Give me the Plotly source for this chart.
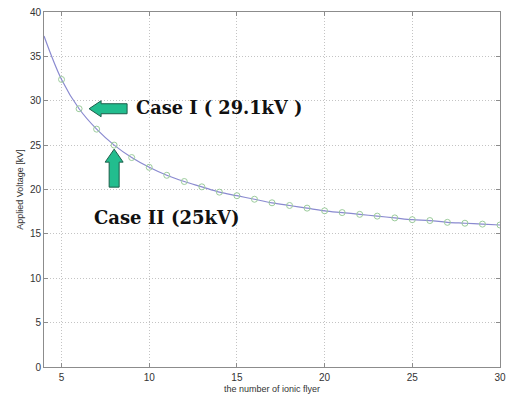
import plotly.graph_objects as go

# number of ionic flyer and applied voltage [kV]
line_x = [4, 5, 6, 7, 8, 9, 10, 11, 12, 13, 14, 15, 16, 17, 18, 19, 20,
          21, 22, 23, 24, 25, 26, 27, 28, 29, 30]
line_v = [37.3, 32.4, 29.1, 26.8, 25.0, 23.6, 22.5, 21.6, 20.9, 20.3, 19.7,
          19.3, 18.9, 18.5, 18.2, 17.9, 17.6, 17.4, 17.2, 17.0, 16.8, 16.6,
          16.5, 16.3, 16.2, 16.1, 16.0]
marker_x = line_x[1:]
marker_v = line_v[1:]

x_ticks = [5, 10, 15, 20, 25, 30]
y_ticks = [0, 5, 10, 15, 20, 25, 30, 35, 40]

case1 = (6, 29.1, "Case I ( 29.1kV )")
case2 = (8, 25.0, "Case II (25kV)")

fig = go.Figure()
fig.add_trace(go.Scatter(x=line_x, y=line_v, mode="lines",
                         line=dict(color="#8a8ad0", width=1.2, shape="spline"),
                         hoverinfo="skip", showlegend=False))
fig.add_trace(go.Scatter(x=marker_x, y=marker_v, mode="markers",
                         marker=dict(symbol="circle-open", size=6,
                                     color="#9ccc9c", line=dict(width=1)),
                         showlegend=False))

arrow_fill = "#22bd8e"
arrow_line = "#1d5e4a"
# Case I arrow: pointing left, tip a bit right of the point (pixel path)
fig.add_shape(type="path", xref="x", yref="y", xsizemode="pixel", ysizemode="pixel",
              xanchor=case1[0], yanchor=case1[1],
              path="M 10 0 L 22 8 L 22 5 L 48 5 L 48 -5 L 22 -5 L 22 -8 Z",
              fillcolor=arrow_fill, line=dict(color=arrow_line, width=1))
# Case II arrow: pointing up, tip just below the point
fig.add_shape(type="path", xref="x", yref="y", xsizemode="pixel", ysizemode="pixel",
              xanchor=case2[0], yanchor=case2[1],
              path="M 0 -4 L -9 -17 L -5 -17 L -5 -42 L 5 -42 L 5 -17 L 9 -17 Z",
              fillcolor=arrow_fill, line=dict(color=arrow_line, width=1))

fig.add_annotation(x=case1[0], y=case1[1], text="<b>" + case1[2] + "</b>", showarrow=False,
                   xanchor="left", yanchor="middle", xshift=55, yshift=1,
                   font=dict(family="DejaVu Serif", size=17.8, color="#111111"))
fig.add_annotation(x=case2[0], y=case2[1], text="<b>" + case2[2] + "</b>", showarrow=False,
                   xanchor="left", yanchor="middle", xshift=-22, yshift=-72,
                   font=dict(family="DejaVu Serif", size=18, color="#111111"))

axis_common = dict(showline=True, linecolor="#8c8c8c", linewidth=1, mirror="ticks",
                   ticks="inside", ticklen=4, tickcolor="#8c8c8c",
                   showgrid=True, gridcolor="#c4c4c4", griddash="1px,2px", gridwidth=1,
                   zeroline=False, automargin=False,
                   tickfont=dict(family="Liberation Sans", size=10, color="#333333"))

fig.update_xaxes(range=[4, 30], tickvals=x_ticks, ticklabelstandoff=1,
                 title=dict(text="the number of ionic flyer", standoff=3,
                            font=dict(family="Liberation Sans", size=9, color="#333333")),
                 **axis_common)
fig.update_yaxes(range=[0, 40], tickvals=y_ticks,
                 title=dict(text="Applied Voltage [kV]", standoff=4,
                            font=dict(family="Liberation Sans", size=9, color="#333333")),
                 **axis_common)

fig.update_layout(width=506, height=395, margin=dict(l=44, r=6, t=12, b=28),
                  paper_bgcolor="white", plot_bgcolor="white")

fig.write_html("out.html", config={"displayModeBar": False},
               post_script="document.body.style.margin='0px';")
